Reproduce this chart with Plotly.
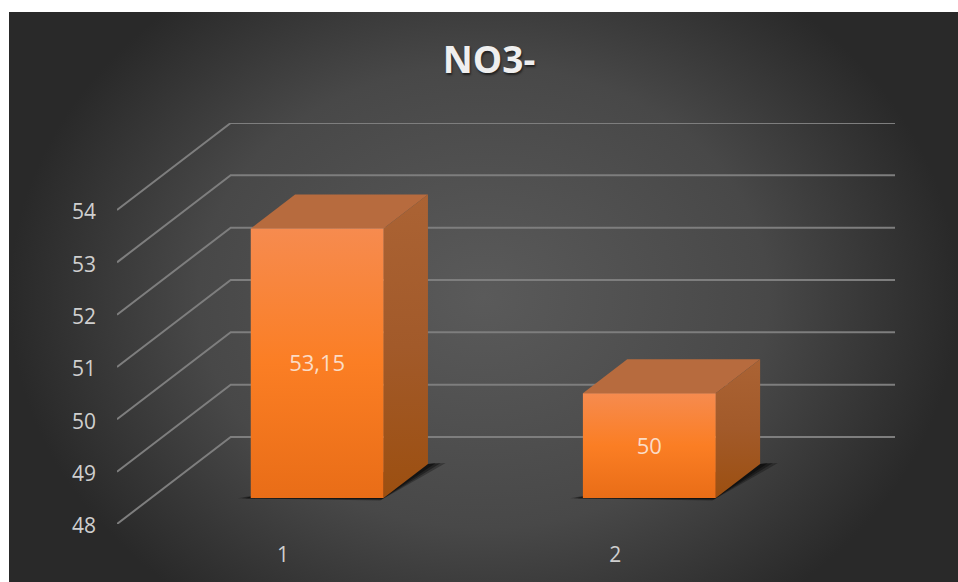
import base64
import plotly.graph_objects as go

title = "NO3-"
categories = [1, 2]
values = [53.15, 50]
value_ticks = [48, 49, 50, 51, 52, 53, 54]

W, H = 958, 582
LEFT, RIGHT, TOP, BOTTOM = 117, 895, 123, 524
BASE = value_ticks[0]
X0, X1 = 0.5, 2.5
DX = 114 / 333.0    # x-axis units for full chart depth
DY = 87 / 52.33     # value units for full chart depth
HALF = 0.2          # half bar width
D0, D1 = 0.30, 0.69 # depth span of bars
LABEL_DROP = 0.05   # data-label nudge, value units


def proj(x, v, d):
    return x + DX * d, v + DY * d


def poly(points, **kw):
    pts = [proj(*p) for p in points]
    xs = [p[0] for p in pts] + [pts[0][0]]
    ys = [p[1] for p in pts] + [pts[0][1]]
    return go.Scatter(x=xs, y=ys, mode="lines", fill="toself", line=dict(width=0),
                      hoverinfo="skip", showlegend=False, **kw)


def grad(colors, lo, hi):
    n = len(colors) - 1
    return dict(type="vertical", start=lo, stop=hi,
                colorscale=[[i / n, c] for i, c in enumerate(colors)])


fig = go.Figure()

for v in value_ticks:
    a = proj(X0, v, 0)
    b = proj(X0, v, 1)
    c = proj(X1, v, 1)
    fig.add_trace(go.Scatter(x=[a[0], b[0], c[0]], y=[a[1], b[1], c[1]], mode="lines",
                             line=dict(color="#7e7e7e", width=2), cliponaxis=False,
                             hoverinfo="skip", showlegend=False))

for cat, val in zip(categories, values):
    l, r = cat - HALF, cat + HALF
    # soft floor shadow
    for grow, alpha in [(1.0, 0.3), (0.7, 0.4), (0.4, 0.5)]:
        fig.add_trace(poly([(l - 0.037 * grow, BASE, D0 - 0.005),
                            (r, BASE, D0 - 0.03 * grow),
                            (r + 0.05 * grow, BASE, D1 + 0.01),
                            (r, BASE, D1)],
                           fillcolor=f"rgba(5,5,5,{alpha})"))
    # top face
    fig.add_trace(poly([(l, val, D0), (r, val, D0), (r, val, D1), (l, val, D1)],
                       fillcolor="#b76b3e"))
    # side face
    lo = proj(r, BASE, D0)[1]
    hi = proj(r, val, D1)[1]
    fig.add_trace(poly([(r, BASE, D0), (r, BASE, D1), (r, val, D1), (r, val, D0)],
                       fillgradient=grad(["#9c4f10", "#a25a2a", "#ab6334"], lo, hi),
                       fillcolor="#a25a2a"))
    # front face
    lo = proj(r, BASE, D0)[1]
    hi = proj(r, val, D0)[1]
    fig.add_trace(poly([(l, BASE, D0), (r, BASE, D0), (r, val, D0), (l, val, D0)],
                       fillgradient=grad(["#e96d17", "#fb7e24", "#f68b4f"], lo, hi),
                       fillcolor="#f87e2a"))

label_pts = [proj(c, (BASE + v) / 2 - LABEL_DROP, D0) for c, v in zip(categories, values)]
fig.add_trace(go.Scatter(
    x=[p[0] for p in label_pts], y=[p[1] for p in label_pts], mode="text",
    text=[str(v).replace(".", ",") for v in values],
    textfont=dict(family="Open Sans", size=22, color="#fbdcc6"),
    textposition="middle center", hoverinfo="skip", showlegend=False))

svg = """<svg xmlns='http://www.w3.org/2000/svg' width='949' height='570' viewBox='0 0 949 570'>
<defs><radialGradient id='g' cx='0.5' cy='0.5' r='0.5' gradientTransform='translate(0.5 0.5) scale(1.0 1.35) translate(-0.5 -0.5)'>
<stop offset='0' stop-color='#5a5a5a'/><stop offset='0.6' stop-color='#484848'/><stop offset='1' stop-color='#292929'/>
</radialGradient></defs><rect width='949' height='570' fill='url(#g)'/></svg>"""
src = "data:image/svg+xml;base64," + base64.b64encode(svg.encode()).decode()

pw, ph = RIGHT - LEFT, BOTTOM - TOP
fig.update_layout(
    width=W, height=H, autosize=False,
    margin=dict(l=LEFT, r=W - RIGHT, t=TOP, b=H - BOTTOM, pad=0),
    paper_bgcolor="white", plot_bgcolor="rgba(0,0,0,0)",
    showlegend=False,
    title=dict(text=f"<b>{title}</b>", x=489 / W, xanchor="center",
               y=1 - 60 / H, yanchor="middle",
               font=dict(family="Open Sans", size=37, color="#efefef", shadow="1px 2px 2px #222222")),
    xaxis=dict(range=[X0, X1 + DX], tickvals=categories, ticktext=[str(c) for c in categories],
               showgrid=False, zeroline=False, showline=False, ticks="",
               ticklabelstandoff=16, tickfont=dict(family="Open Sans", size=21, color="#cfcfcf")),
    yaxis=dict(range=[BASE, value_ticks[-1] + DY], tickvals=value_ticks,
               showgrid=False, zeroline=False, showline=False, ticks="",
               ticklabelstandoff=20, ticklabelshift=2,
               tickfont=dict(family="Open Sans", size=21, color="#cfcfcf")),
    images=[dict(source=src, xref="paper", yref="paper", x=(9 - LEFT) / pw,
                 y=(BOTTOM - 12) / ph,
                 sizex=949 / pw, sizey=570 / ph, xanchor="left", yanchor="top",
                 sizing="stretch", layer="below")],
)

fig.write_html("out.html", default_width=f"{W}px", default_height=f"{H}px",
               config={"displayModeBar": False},
               post_script="document.body.style.margin='0';")
